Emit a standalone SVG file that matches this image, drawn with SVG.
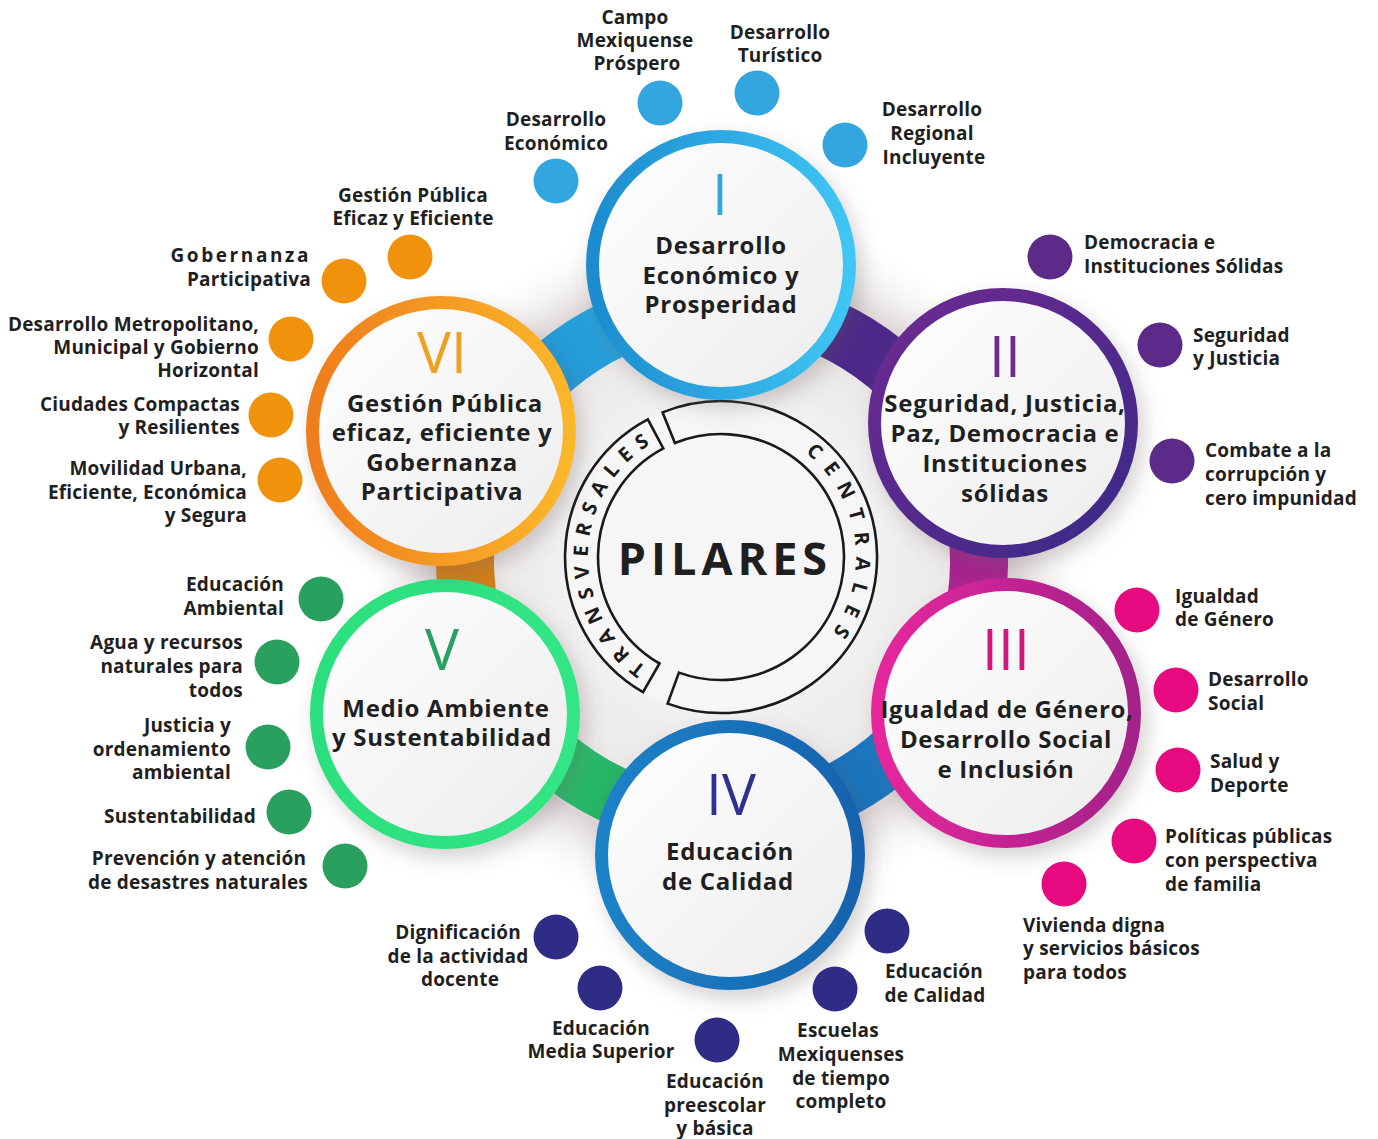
<svg xmlns="http://www.w3.org/2000/svg" width="1378" height="1139" viewBox="0 0 1378 1139">
<defs>
<style>
.t{font-family:"Open Sans","Liberation Sans",sans-serif;font-weight:700;fill:#1f1f1f}
.title{font-size:24px;letter-spacing:0.7px;text-anchor:middle}
.lbl{font-size:19px;letter-spacing:0.2px}
.c{text-anchor:middle}
.e{text-anchor:end}
.num{font-family:"Open Sans","Liberation Sans",sans-serif;font-weight:400;font-size:57px;text-anchor:middle}
.pil{fill:url(#cfill);stroke-width:13;filter:url(#sh)}
.band{fill:none;stroke-width:58}
.ring{fill:none;stroke:#1a1a1a;stroke-width:2.6}
.rt{font-family:"Open Sans","Liberation Sans",sans-serif;font-weight:700;font-size:20px;fill:#1a1a1a}
.d1{fill:#33a5df}.d2{fill:#5c2a88}.d3{fill:#e6097f}.d4{fill:#2f2c86}.d5{fill:#2aa05f}.d6{fill:#f0920c}
</style>
<filter id="sh" x="-30%" y="-30%" width="160%" height="160%"><feDropShadow dx="6" dy="9" stdDeviation="10" flood-color="#6b5a5a" flood-opacity="0.28"/></filter>
<filter id="blur" x="-30%" y="-30%" width="160%" height="160%"><feGaussianBlur stdDeviation="25"/></filter>
<linearGradient id="cfill" x1="0" y1="0" x2="1" y2="1"><stop offset="0" stop-color="#ffffff"/><stop offset="1" stop-color="#ececec"/></linearGradient>
<radialGradient id="halo" cx="0.5" cy="0.5" r="0.5"><stop offset="0" stop-color="#f6f6f6"/><stop offset="0.55" stop-color="#f2f0f0"/><stop offset="0.8" stop-color="#ddd6d6"/><stop offset="1" stop-color="#ffffff" stop-opacity="0"/></radialGradient>
<linearGradient id="g1" x1="0" y1="0" x2="1" y2="0"><stop offset="0" stop-color="#1d8ccf"/><stop offset="1" stop-color="#3fc6f4"/></linearGradient>
<linearGradient id="g2" x1="0" y1="0" x2="1" y2="1"><stop offset="0" stop-color="#6e2c92"/><stop offset="1" stop-color="#3a2a88"/></linearGradient>
<linearGradient id="g3" x1="0" y1="0" x2="1" y2="0"><stop offset="0" stop-color="#e6279d"/><stop offset="1" stop-color="#a32189"/></linearGradient>
<linearGradient id="g4" x1="0" y1="0" x2="1" y2="0"><stop offset="0" stop-color="#1e82c8"/><stop offset="1" stop-color="#1463ad"/></linearGradient>
<linearGradient id="g5" x1="0" y1="0" x2="1" y2="0"><stop offset="0" stop-color="#2cdf7d"/><stop offset="1" stop-color="#31e585"/></linearGradient>
<linearGradient id="g6" x1="0" y1="0" x2="1" y2="0"><stop offset="0" stop-color="#ef7d1d"/><stop offset="1" stop-color="#fab72b"/></linearGradient>
<linearGradient id="b61" gradientUnits="userSpaceOnUse" x1="489" y1="453" x2="721" y2="305"><stop offset="0" stop-color="#1a8acb"/><stop offset="1" stop-color="#2fb2e8"/></linearGradient>
<linearGradient id="b12" gradientUnits="userSpaceOnUse" x1="721" y1="305" x2="952" y2="447"><stop offset="0" stop-color="#3a2584"/><stop offset="1" stop-color="#5a2a8e"/></linearGradient>
<linearGradient id="b23" gradientUnits="userSpaceOnUse" x1="952" y1="447" x2="949" y2="682"><stop offset="0" stop-color="#7e2290"/><stop offset="1" stop-color="#cc2390"/></linearGradient>
<linearGradient id="b34" gradientUnits="userSpaceOnUse" x1="949" y1="682" x2="729" y2="819"><stop offset="0" stop-color="#1f85cc"/><stop offset="1" stop-color="#1462ad"/></linearGradient>
<linearGradient id="b45" gradientUnits="userSpaceOnUse" x1="729" y1="819" x2="497" y2="686"><stop offset="0" stop-color="#1f9a55"/><stop offset="1" stop-color="#2fd37a"/></linearGradient>
<linearGradient id="b56" gradientUnits="userSpaceOnUse" x1="497" y1="686" x2="489" y2="453"><stop offset="0" stop-color="#c8741a"/><stop offset="1" stop-color="#e38d14"/></linearGradient>
<path id="pT" d="M 721 690 A 133 133 0 0 1 721 424"/>
<path id="pC" d="M 700 426 A 133 133 0 0 1 746 688"/>
</defs>
<rect width="1378" height="1139" fill="#ffffff"/>
<circle cx="722" cy="565" r="360" fill="url(#halo)"/>
<circle cx="722" cy="560" r="205" fill="#e9e5e5" filter="url(#blur)"/>
<circle cx="722" cy="557" r="180" fill="#f4f4f4" filter="url(#blur)"/>

<g id="connectors">
<path class="band" stroke="url(#b61)" d="M 489.1 453.4 A 257 257 0 0 1 721.1 305"/>
<path class="band" stroke="url(#b12)" d="M 721.1 305 A 257 257 0 0 1 952 447.3"/>
<path class="band" stroke="url(#b23)" d="M 952 447.3 A 257 257 0 0 1 949.3 681.9"/>
<path class="band" stroke="url(#b34)" d="M 949.3 681.9 A 257 257 0 0 1 729.2 818.9"/>
<path class="band" stroke="url(#b45)" d="M 729.2 818.9 A 257 257 0 0 1 497 686.2"/>
<path class="band" stroke="url(#b56)" d="M 497 686.2 A 257 257 0 0 1 489.1 453.4"/>
</g>

<g id="center">
<circle cx="721" cy="557" r="156" fill="#f6f6f6"/>
<path class="ring" d="M 643 692.1 A 156 156 0 0 1 647.8 419.3 L 663.3 448.4 A 123 123 0 0 0 659.5 663.5 Z"/>
<path class="ring" d="M 662.6 412.4 A 156 156 0 1 1 667.6 703.6 L 678.9 672.6 A 123 123 0 1 0 674.9 443 Z"/>
<text class="rt" letter-spacing="8.5"><textPath href="#pT" startOffset="51.5%" text-anchor="middle">TRANSVERSALES</textPath></text>
<text class="rt" letter-spacing="11"><textPath href="#pC" startOffset="52%" text-anchor="middle">CENTRALES</textPath></text>
<text class="t" x="725" y="575" font-size="45" letter-spacing="5" text-anchor="middle">PILARES</text>
</g>

<g id="pilar-I">
<circle class="pil" cx="721" cy="265" r="128.5" stroke="url(#g1)"/>
<text class="num" x="720" y="215" fill="#2ea9e1">I</text>
<text class="t title"><tspan x="721" y="254">Desarrollo</tspan><tspan x="721" y="284">Económico y</tspan><tspan x="721" y="313">Prosperidad</tspan></text>
</g>
<g id="pilar-II">
<circle class="pil" cx="1003" cy="423" r="128.5" stroke="url(#g2)"/>
<text class="num" x="1005" y="377" fill="#6a2c91">II</text>
<text class="t title"><tspan x="1005" y="412">Seguridad, Justicia,</tspan><tspan x="1005" y="442">Paz, Democracia e</tspan><tspan x="1005" y="472">Instituciones</tspan><tspan x="1005" y="502">sólidas</tspan></text>
</g>
<g id="pilar-III">
<circle class="pil" cx="1006" cy="713" r="128.5" stroke="url(#g3)"/>
<text class="num" x="1006" y="670" fill="#d6147c">III</text>
<text class="t title"><tspan x="1007" y="718">Igualdad de Género,</tspan><tspan x="1006" y="748">Desarrollo Social</tspan><tspan x="1006" y="778">e Inclusión</tspan></text>
</g>
<g id="pilar-IV">
<circle class="pil" cx="730" cy="855" r="128.5" stroke="url(#g4)"/>
<text class="num" x="731" y="815" fill="#2e3192">IV</text>
<text class="t title"><tspan x="730" y="860">Educación</tspan><tspan x="728" y="890">de Calidad</tspan></text>
</g>
<g id="pilar-V">
<circle class="pil" cx="445" cy="714" r="128.5" stroke="url(#g5)"/>
<text class="num" x="442" y="670" fill="#27a060">V</text>
<text class="t title"><tspan x="446" y="717">Medio Ambiente</tspan><tspan x="442" y="746">y Sustentabilidad</tspan></text>
</g>
<g id="pilar-VI">
<circle class="pil" cx="441" cy="431" r="128.5" stroke="url(#g6)"/>
<text class="num" x="442" y="373" fill="#f0a020">VI</text>
<text class="t title"><tspan x="445" y="412">Gestión Pública</tspan><tspan x="442" y="441">eficaz, eficiente y</tspan><tspan x="442" y="471">Gobernanza</tspan><tspan x="442" y="500">Participativa</tspan></text>
</g>

<g id="i-economico"><circle class="d1" cx="556" cy="181" r="22.5"/><text class="t lbl c"><tspan x="556" y="126">Desarrollo</tspan><tspan x="556" y="150">Económico</tspan></text></g>
<g id="i-campo"><circle class="d1" cx="660" cy="103" r="22.5"/><text class="t lbl c"><tspan x="635" y="24">Campo</tspan><tspan x="635" y="47">Mexiquense</tspan><tspan x="637" y="70">Próspero</tspan></text></g>
<g id="i-turistico"><circle class="d1" cx="757" cy="93" r="22.5"/><text class="t lbl c"><tspan x="780" y="39">Desarrollo</tspan><tspan x="780" y="62">Turístico</tspan></text></g>
<g id="i-regional"><circle class="d1" cx="845" cy="145" r="22.5"/><text class="t lbl c"><tspan x="932" y="116">Desarrollo</tspan><tspan x="932" y="140">Regional</tspan><tspan x="934" y="164">Incluyente</tspan></text></g>

<g id="ii-democracia"><circle class="d2" cx="1050" cy="257" r="22.5"/><text class="t lbl"><tspan x="1084" y="249">Democracia e</tspan><tspan x="1084" y="273">Instituciones Sólidas</tspan></text></g>
<g id="ii-seguridad"><circle class="d2" cx="1160" cy="345" r="22.5"/><text class="t lbl"><tspan x="1193" y="342">Seguridad</tspan><tspan x="1193" y="365">y Justicia</tspan></text></g>
<g id="ii-combate"><circle class="d2" cx="1172" cy="461" r="22.5"/><text class="t lbl"><tspan x="1205" y="457">Combate a la</tspan><tspan x="1205" y="481">corrupción y</tspan><tspan x="1205" y="505">cero impunidad</tspan></text></g>

<g id="iii-igualdad"><circle class="d3" cx="1137" cy="610" r="22.5"/><text class="t lbl"><tspan x="1175" y="603">Igualdad</tspan><tspan x="1175" y="626">de Género</tspan></text></g>
<g id="iii-social"><circle class="d3" cx="1176" cy="690" r="22.5"/><text class="t lbl"><tspan x="1208" y="686">Desarrollo</tspan><tspan x="1208" y="710">Social</tspan></text></g>
<g id="iii-salud"><circle class="d3" cx="1178" cy="770" r="22.5"/><text class="t lbl"><tspan x="1210" y="768">Salud y</tspan><tspan x="1210" y="792">Deporte</tspan></text></g>
<g id="iii-politicas"><circle class="d3" cx="1134" cy="841" r="22.5"/><text class="t lbl"><tspan x="1165" y="843">Políticas públicas</tspan><tspan x="1165" y="867">con perspectiva</tspan><tspan x="1165" y="891">de familia</tspan></text></g>
<g id="iii-vivienda"><circle class="d3" cx="1064" cy="884" r="22.5"/><text class="t lbl"><tspan x="1023" y="932">Vivienda digna</tspan><tspan x="1023" y="955">y servicios básicos</tspan><tspan x="1023" y="979">para todos</tspan></text></g>

<g id="iv-calidad"><circle class="d4" cx="887" cy="931" r="22.5"/><text class="t lbl c"><tspan x="934" y="978">Educación</tspan><tspan x="935" y="1002">de Calidad</tspan></text></g>
<g id="iv-escuelas"><circle class="d4" cx="835" cy="989" r="22.5"/><text class="t lbl c"><tspan x="838" y="1037">Escuelas</tspan><tspan x="841" y="1061">Mexiquenses</tspan><tspan x="841" y="1085">de tiempo</tspan><tspan x="841" y="1108">completo</tspan></text></g>
<g id="iv-basica"><circle class="d4" cx="717" cy="1040" r="22.5"/><text class="t lbl c"><tspan x="715" y="1088">Educación</tspan><tspan x="715" y="1112">preescolar</tspan><tspan x="715" y="1135">y básica</tspan></text></g>
<g id="iv-media"><circle class="d4" cx="600" cy="988" r="22.5"/><text class="t lbl c"><tspan x="601" y="1035">Educación</tspan><tspan x="601" y="1058">Media Superior</tspan></text></g>
<g id="iv-docente"><circle class="d4" cx="556" cy="937" r="22.5"/><text class="t lbl c"><tspan x="458" y="939">Dignificación</tspan><tspan x="458" y="963">de la actividad</tspan><tspan x="460" y="986">docente</tspan></text></g>

<g id="v-educacion"><circle class="d5" cx="321" cy="599" r="22.5"/><text class="t lbl e"><tspan x="284" y="591">Educación</tspan><tspan x="284" y="615">Ambiental</tspan></text></g>
<g id="v-agua"><circle class="d5" cx="277" cy="662" r="22.5"/><text class="t lbl e"><tspan x="243" y="649">Agua y recursos</tspan><tspan x="243" y="673">naturales para</tspan><tspan x="243" y="697">todos</tspan></text></g>
<g id="v-justicia"><circle class="d5" cx="268" cy="747" r="22.5"/><text class="t lbl e"><tspan x="231" y="732">Justicia y</tspan><tspan x="231" y="756">ordenamiento</tspan><tspan x="231" y="779">ambiental</tspan></text></g>
<g id="v-sustentabilidad"><circle class="d5" cx="289" cy="812" r="22.5"/><text class="t lbl e" x="256" y="823">Sustentabilidad</text></g>
<g id="v-prevencion"><circle class="d5" cx="345" cy="866" r="22.5"/><text class="t lbl c"><tspan x="199" y="865">Prevención y atención</tspan><tspan x="198" y="889">de desastres naturales</tspan></text></g>

<g id="vi-gestion"><circle class="d6" cx="410" cy="257" r="22.5"/><text class="t lbl c"><tspan x="413" y="202">Gestión Pública</tspan><tspan x="413" y="225">Eficaz y Eficiente</tspan></text></g>
<g id="vi-gobernanza"><circle class="d6" cx="344" cy="281" r="22.5"/><text class="t lbl e"><tspan x="311" y="262" letter-spacing="2.6">Gobernanza</tspan><tspan x="311" y="286">Participativa</tspan></text></g>
<g id="vi-metropolitano"><circle class="d6" cx="291" cy="339" r="22.5"/><text class="t lbl e"><tspan x="259" y="331">Desarrollo Metropolitano,</tspan><tspan x="259" y="354">Municipal y Gobierno</tspan><tspan x="259" y="377">Horizontal</tspan></text></g>
<g id="vi-ciudades"><circle class="d6" cx="271" cy="415" r="22.5"/><text class="t lbl e"><tspan x="240" y="411">Ciudades Compactas</tspan><tspan x="240" y="434">y Resilientes</tspan></text></g>
<g id="vi-movilidad"><circle class="d6" cx="280" cy="480" r="22.5"/><text class="t lbl e"><tspan x="247" y="475">Movilidad Urbana,</tspan><tspan x="247" y="499">Eficiente, Económica</tspan><tspan x="247" y="522">y Segura</tspan></text></g>
</svg>
